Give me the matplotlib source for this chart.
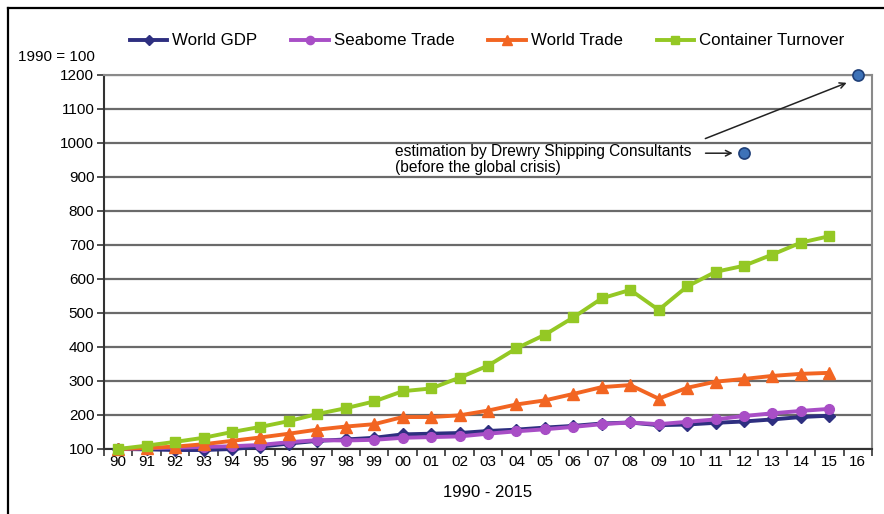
import matplotlib
matplotlib.use("Agg")
import matplotlib.pyplot as plt
from matplotlib.lines import Line2D
from matplotlib.ticker import FixedLocator, NullFormatter

plt.rcParams['font.family'] = ['Liberation Sans', 'DejaVu Sans']

# Categories (two-digit years 1990-2016)
years = ["90", "91", "92", "93", "94", "95", "96", "97", "98", "99",
         "00", "01", "02", "03", "04", "05", "06", "07", "08", "09",
         "10", "11", "12", "13", "14", "15", "16"]

# Index values, 1990 = 100 (1990-2015)
world_gdp = [100, 99, 97, 97, 100, 107, 116, 124, 128, 133,
             143, 145, 147, 153, 157, 163, 168, 175, 178, 170,
             172, 177, 181, 187, 194, 198]
seaborne_trade = [100, 102, 104, 106, 108, 112, 120, 126, 125, 127,
                  133, 135, 137, 145, 152, 158, 165, 173, 178, 173,
                  180, 187, 197, 205, 212, 218]
world_trade = [100, 103, 107, 114, 124, 134, 145, 157, 166, 173,
               194, 194, 199, 213, 231, 243, 262, 282, 288, 248,
               280, 298, 306, 315, 321, 324]
container_turnover = [100, 110, 121, 133, 150, 165, 182, 203, 220, 240,
                      270, 278, 310, 345, 396, 436, 487, 543, 568, 509,
                      578, 621, 639, 672, 707, 726]

# Pre-crisis estimates (year label, value)
estimate_years = ["12", "16"]
estimate_values = [970, 1200]

series_labels = ["World GDP", "Seabome Trade", "World Trade", "Container Turnover"]

fig = plt.figure(figsize=(8.84, 5.14), dpi=100)
ax = fig.add_axes([104 / 884, 65 / 514, 768 / 884, 374 / 514])

x = list(range(len(years)))
n = len(world_gdp)

styles = [
    (world_gdp, '#2e2f80', 'D', 6),
    (seaborne_trade, '#a84ec6', 'o', 7),
    (world_trade, '#f26522', '^', 8),
    (container_turnover, '#94c824', 's', 7),
]
handles = []
for (vals, col, mk, ms), lab in zip(styles, series_labels):
    h, = ax.plot(x[:n], vals, color=col, lw=2.8, marker=mk, markersize=ms,
                 markeredgecolor=col, label=lab, clip_on=False, zorder=3)
    handles.append(h)

# Estimate points
ex = [years.index(y) for y in estimate_years]
ax.plot(ex, estimate_values, linestyle='none', marker='o', markersize=8,
        markerfacecolor='#3d72b8', markeredgecolor='#1f3f78', markeredgewidth=1.2,
        clip_on=False, zorder=4)

ax.set_xlim(-0.5, len(years) - 0.5)
ax.set_ylim(100, 1200)
ax.set_yticks(range(100, 1201, 100))
ax.yaxis.grid(True, color='#6a6a6a', lw=1.6)
ax.set_axisbelow(True)

ax.set_xticks(x)
ax.set_xticklabels(years, fontsize=11)
ax.tick_params(axis='x', which='major', length=0, pad=4)
ax.xaxis.set_minor_locator(FixedLocator([i + 0.5 for i in range(-1, len(years))]))
ax.xaxis.set_minor_formatter(NullFormatter())
ax.tick_params(axis='x', which='minor', length=5, width=1.2, color='#333333', direction='out')
ax.tick_params(axis='y', labelsize=11, length=5, width=1.2, color='#333333', pad=2)

for side in ['left', 'bottom']:
    ax.spines[side].set_color('#333333')
    ax.spines[side].set_linewidth(1.5)
for side in ['top', 'right']:
    ax.spines[side].set_color('#8a8a8a')
    ax.spines[side].set_linewidth(1.5)

ax.set_xlabel("1990 - 2015", fontsize=12, labelpad=12)
fig.text(18 / 884, 1 - 57 / 514, "1990 = 100", fontsize=11, va='center', ha='left')

# Annotation for the estimates
ax.text(9.73, 952, "estimation by Drewry Shipping Consultants\n(before the global crisis)",
        fontsize=11.2, va='center', ha='left', linespacing=1.1)
ax.annotate("", xy=(ex[0] - 0.3, estimate_values[0]), xytext=(20.55, 970),
            arrowprops=dict(arrowstyle='->', color='#222222', lw=1.1))
ax.annotate("", xy=(ex[1] - 0.3, estimate_values[1] - 20), xytext=(20.55, 1010),
            arrowprops=dict(arrowstyle='->', color='#222222', lw=1.1))

fig.legend(handles=handles, loc='center', bbox_to_anchor=(487 / 884, 1 - 41 / 514),
           ncol=4, frameon=False, fontsize=12.2, handlelength=2.2, handletextpad=0.3,
           columnspacing=2.0, markerscale=0.85)

# Outer frame lines
fig.add_artist(Line2D([8 / 884, 8 / 884], [0, 1 - 8 / 514], color='black', lw=1.6,
                      transform=fig.transFigure))
fig.add_artist(Line2D([8 / 884, 1], [1 - 8 / 514, 1 - 8 / 514], color='black', lw=1.6,
                      transform=fig.transFigure))

fig.savefig("out.png", dpi=100)
